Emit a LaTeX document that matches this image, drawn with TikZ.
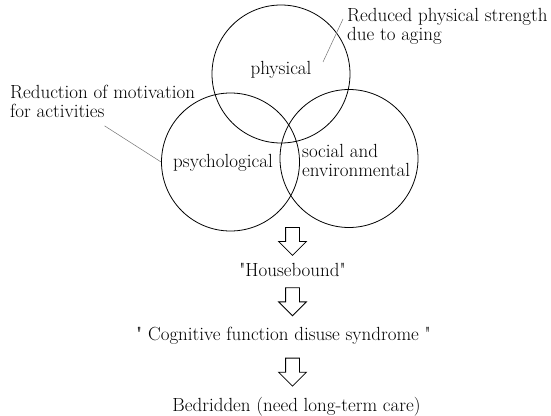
\documentclass[tikz,border=0pt]{standalone}
\usepackage{fontspec}
\setmainfont{Latin Modern Roman}[Ligatures=TeXOff]
\usetikzlibrary{positioning, shapes.arrows, calc}
\begin{document}
\begin{tikzpicture}[
    x=1pt, y=-1pt,
    factor/.style={circle, draw, line width=0.8pt, minimum size=138pt, inner sep=0pt},
    tag/.style={inner sep=0pt, align=left, font=\fontsize{19}{19}\selectfont},
    stage/.style={inner sep=0pt, text height=13pt, text depth=4pt, font=\fontsize{19}{19}\selectfont},
    hollow/.style={single arrow, draw, line width=0.8pt, shape border rotate=270, minimum height=28pt, single arrow head extend=7pt, single arrow head indent=0pt, inner sep=6.5pt},
    leader/.style={black!55, line width=0.5pt}
]
\useasboundingbox (0,0) rectangle (551,415);

\node[factor] (phys) at (281,74) {};
\node[factor] (psych) at (230.5,162) {};
\node[factor] (social) at (349,158.5) {};

\node[tag, anchor=base] (physlbl) at (281,74) {physical};
\node[tag, anchor=base] (psychlbl) at (223,167) {psychological};
\node[tag, anchor=north west] (sociallbl) at (302,144) {social and\\environmental};

\node[tag, anchor=north west] (strength) at (347,8) {Reduced physical strength\\due to aging};
\node[tag, anchor=north west] (motive) at (10,85) {Reduction of motivation\\for activities};

\coordinate (physpt) at (323,62);
\draw[leader] (physpt) -- ($(strength.north west)+(-4,11)$);
\draw[leader] ($(motive.south)+(2,8)$) -- (psych.west);

\node[hollow, anchor=tail] (a1) at (292.5,227) {};
\node[stage, below=7pt of a1.tip] (house) {"Housebound"};
\node[hollow, below=7pt of house, anchor=tail] (a2) {};
\node[stage, below=11pt of a2.tip, xshift=-9pt] (cogn) {" Cognitive function disuse syndrome "};
\node[hollow, below=13pt of cogn, xshift=9pt, anchor=tail] (a3) {};
\node[stage, below=12pt of a3.tip, xshift=4pt] (bed) {Bedridden (need long-term care)};

\end{tikzpicture}
\end{document}
